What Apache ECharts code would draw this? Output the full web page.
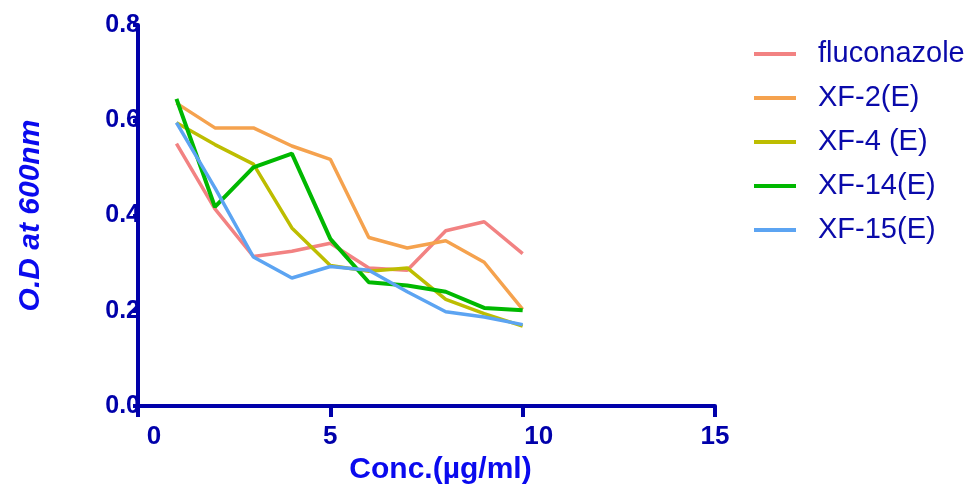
<!DOCTYPE html>
<html>
<head>
<meta charset="utf-8">
<script src="https://cdn.jsdelivr.net/npm/echarts@6/dist/echarts.min.js"></script>
<style>
  html, body { margin: 0; padding: 0; background: #fff; }
  #chart { width: 976px; height: 490px; }
</style>
</head>
<body>
<div id="chart"></div>
<script>
// Concentration steps (µg/ml)
const conc = [1, 2, 3, 4, 5, 6, 7, 8, 9, 10];

// Optical density at 600 nm for each compound
const fluconazole = [0.551, 0.414, 0.314, 0.325, 0.342, 0.290, 0.285, 0.368, 0.387, 0.320];
const xf2  = [0.636, 0.584, 0.584, 0.546, 0.518, 0.354, 0.332, 0.347, 0.302, 0.203];
const xf4  = [0.595, 0.549, 0.508, 0.374, 0.295, 0.283, 0.290, 0.224, 0.194, 0.168];
const xf14 = [0.645, 0.418, 0.501, 0.530, 0.351, 0.260, 0.253, 0.240, 0.206, 0.201];
const xf15 = [0.595, 0.458, 0.313, 0.269, 0.293, 0.285, 0.240, 0.198, 0.187, 0.171];

const seriesNames = ['fluconazole', 'XF-2(E)', 'XF-4 (E)', 'XF-14(E)', 'XF-15(E)'];
const seriesData = [fluconazole, xf2, xf4, xf14, xf15];
const colors = ['#F28282', '#F5A24E', '#BDBD00', '#00B800', '#5CA4F2'];
const widths = [3.5, 3.5, 3.5, 4, 3.5];

const axisBlue = '#0000AA';
const titleBlue = '#0A0AEE';
const font = 'Liberation Sans, Arial, Helvetica, sans-serif';

const chart = echarts.init(document.getElementById('chart'));

chart.setOption({
  backgroundColor: '#ffffff',
  animation: false,
  color: colors,
  grid: { left: 138, right: 261, top: 25, bottom: 83, containLabel: false },
  legend: {
    orient: 'vertical',
    left: 749,
    top: 34,
    icon: 'rect',
    itemWidth: 42,
    itemHeight: 4,
    itemGap: 14,
    data: seriesNames,
    textStyle: {
      fontFamily: font,
      fontSize: 29,
      color: '#0A0AAA',
      lineHeight: 30,
      padding: [0, 0, 0, 17]
    }
  },
  xAxis: {
    type: 'value',
    min: 0,
    max: 15,
    interval: 5,
    name: 'Conc.(µg/ml)',
    nameLocation: 'middle',
    nameGap: 47,
    nameTextStyle: {
      fontFamily: font,
      fontSize: 30,
      fontWeight: 'bold',
      color: titleBlue,
      padding: [0, 0, 0, 28]
    },
    axisLine: { show: true, onZero: false, lineStyle: { color: axisBlue, width: 4 } },
    axisTick: { show: true, inside: false, length: 11, lineStyle: { color: axisBlue, width: 4 } },
    splitLine: { show: false },
    axisLabel: {
      margin: 18,
      fontFamily: font,
      fontSize: 26,
      fontWeight: 'bold',
      color: axisBlue,
      formatter: function (v) {
        return (v === 0 || v === 10) ? '{s|' + v + '}' : '{n|' + v + '}';
      },
      rich: {
        s: { fontFamily: font, fontSize: 26, fontWeight: 'bold', color: axisBlue, padding: [0, 0, 0, 32] },
        n: { fontFamily: font, fontSize: 26, fontWeight: 'bold', color: axisBlue }
      }
    }
  },
  yAxis: {
    type: 'value',
    min: 0,
    max: 0.8,
    interval: 0.2,
    name: 'O.D at 600nm',
    nameLocation: 'middle',
    nameGap: 92,
    nameRotate: 90,
    nameTextStyle: {
      fontFamily: font,
      fontSize: 30,
      fontWeight: 'bold',
      fontStyle: 'italic',
      color: titleBlue
    },
    axisLine: { show: true, onZero: false, lineStyle: { color: axisBlue, width: 4 } },
    axisTick: { show: true, inside: false, length: 5, lineStyle: { color: axisBlue, width: 4 } },
    splitLine: { show: false },
    axisLabel: {
      margin: -2,
      fontFamily: font,
      fontSize: 25,
      fontWeight: 'bold',
      color: axisBlue,
      formatter: function (v) { return v.toFixed(1); }
    }
  },
  series: seriesNames.map(function (name, i) {
    return {
      name: name,
      type: 'line',
      data: conc.map(function (c, j) { return [c, seriesData[i][j]]; }),
      symbol: 'none',
      lineStyle: { color: colors[i], width: widths[i] },
      itemStyle: { color: colors[i] },
      z: 2 + i
    };
  })
});
</script>
</body>
</html>
